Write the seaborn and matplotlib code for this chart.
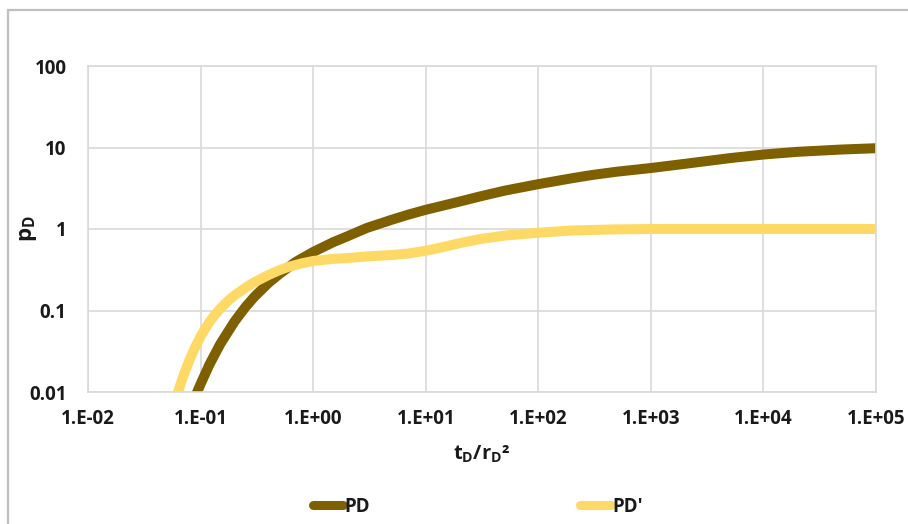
import matplotlib
matplotlib.use("Agg")
import matplotlib.pyplot as plt
import seaborn as sns
import pandas as pd
from matplotlib.lines import Line2D
from matplotlib.ticker import FixedLocator, FixedFormatter, NullLocator

# ---- data ----
pd_x = [0.09, 0.1, 0.12, 0.15, 0.2, 0.25, 0.3, 0.4, 0.5, 0.7, 1.0, 1.5, 2, 3, 5, 7,
        10, 15, 20, 30, 50, 100, 200, 300, 500, 1000, 2000, 5000, 10000, 20000, 50000, 100000]
pd_y = [0.0089, 0.0125, 0.0218, 0.039, 0.073, 0.11, 0.147, 0.217, 0.28, 0.395, 0.522, 0.687, 0.81,
        1.03, 1.30, 1.50, 1.72, 1.97, 2.17, 2.5, 2.95, 3.55, 4.2, 4.6, 5.05, 5.6, 6.3, 7.4, 8.2,
        8.85, 9.45, 9.8]

pdd_x = [0.06, 0.063, 0.07, 0.08, 0.09, 0.1, 0.11, 0.12, 0.13, 0.15, 0.175, 0.2, 0.25, 0.3, 0.4,
         0.5, 0.6, 0.8, 1.0, 1.5, 2, 3, 5, 7, 10, 15, 20, 30, 50, 100, 200, 500, 1000, 10000, 100000]
pdd_y = [0.0085, 0.01, 0.0155, 0.025, 0.036, 0.048, 0.06, 0.072, 0.084, 0.106, 0.131, 0.153, 0.19,
         0.222, 0.272, 0.312, 0.342, 0.38, 0.405, 0.43, 0.44, 0.46, 0.48, 0.50, 0.54, 0.61, 0.67,
         0.75, 0.83, 0.90, 0.96, 0.99, 1.0, 1.0, 1.0]

series_names = ["PD", "PD'"]
colors = ["#7F6000", "#FFD966"]

x_ticks = [1e-2, 1e-1, 1e0, 1e1, 1e2, 1e3, 1e4, 1e5]
x_tick_labels = ["1.E-02", "1.E-01", "1.E+00", "1.E+01", "1.E+02", "1.E+03", "1.E+04", "1.E+05"]
y_ticks = [0.01, 0.1, 1, 10, 100]
y_tick_labels = ["0.01", "0.1", "1", "10", "100"]

df = pd.concat([
    pd.DataFrame({"x": pd_x, "y": pd_y, "series": series_names[0]}),
    pd.DataFrame({"x": pdd_x, "y": pdd_y, "series": series_names[1]}),
], ignore_index=True)

FONT = "Open Sans"
sns.set_theme(style="white")
plt.rcParams["font.family"] = [FONT, "DejaVu Sans"]
plt.rcParams["font.weight"] = "bold"
plt.rcParams["mathtext.fontset"] = "custom"
plt.rcParams["mathtext.rm"] = FONT + ":bold"
plt.rcParams["mathtext.bf"] = FONT + ":bold"
plt.rcParams["mathtext.it"] = FONT + ":bold"

fig = plt.figure(figsize=(9.08, 5.24), dpi=100)
ax = fig.add_axes([88 / 908, 1 - 392 / 524, (876 - 88) / 908, (392 - 66) / 524])

sns.lineplot(data=df, x="x", y="y", hue="series", hue_order=series_names,
             palette=colors, linewidth=7.2, sort=False, estimator=None, ax=ax)
for ln in ax.lines:
    ln.set_solid_joinstyle("round")

ax.set_xscale("log")
ax.set_yscale("log")
ax.set_xlim(1e-2, 1e5)
ax.set_ylim(0.01, 100)

ax.xaxis.set_major_locator(FixedLocator(x_ticks))
ax.xaxis.set_major_formatter(FixedFormatter(x_tick_labels))
ax.yaxis.set_major_locator(FixedLocator(y_ticks))
ax.yaxis.set_major_formatter(FixedFormatter(y_tick_labels))
ax.xaxis.set_minor_locator(NullLocator())
ax.yaxis.set_minor_locator(NullLocator())

ax.tick_params(axis="both", length=0, labelsize=13.5, colors="#1a1a1a")
ax.tick_params(axis="y", pad=15.5)
ax.tick_params(axis="x", pad=12)
for lab in ax.get_xticklabels() + ax.get_yticklabels():
    lab.set_fontweight("bold")

ax.grid(True, color="#D9D9D9", linewidth=1.2)
for sp in ax.spines.values():
    sp.set_color("#D9D9D9")
    sp.set_linewidth(1.2)

ax.set_xlabel(r"$\mathbf{t_D/r_D}$²", fontsize=14.5, fontweight="bold", color="#1a1a1a")
ax.set_ylabel(r"$\mathbf{p_D}$", fontsize=16, fontweight="bold", color="#1a1a1a")
ax.xaxis.set_label_coords(0.5, -0.16)
ax.yaxis.set_label_coords(-0.062, 0.5)

leg = ax.legend(loc="center", bbox_to_anchor=((477.5 - 88) / 788, (392 - 507) / 326),
                ncol=2, frameon=False, fontsize=13.5, handlelength=1.65, handletextpad=0.05,
                columnspacing=11.2, borderaxespad=0)
for line in leg.get_lines():
    line.set_linewidth(6.5)
    line.set_solid_capstyle("round")
for t in leg.get_texts():
    t.set_fontweight("bold")
    t.set_color("#1a1a1a")

# outer chart frame (left and top edges)
fig.add_artist(Line2D([8 / 908, 8 / 908], [0, 1 - 10 / 524], color="#BFBFBF", linewidth=1.6))
fig.add_artist(Line2D([8 / 908, 1], [1 - 10 / 524, 1 - 10 / 524], color="#BFBFBF", linewidth=1.6))

fig.savefig("out.png", dpi=100)
